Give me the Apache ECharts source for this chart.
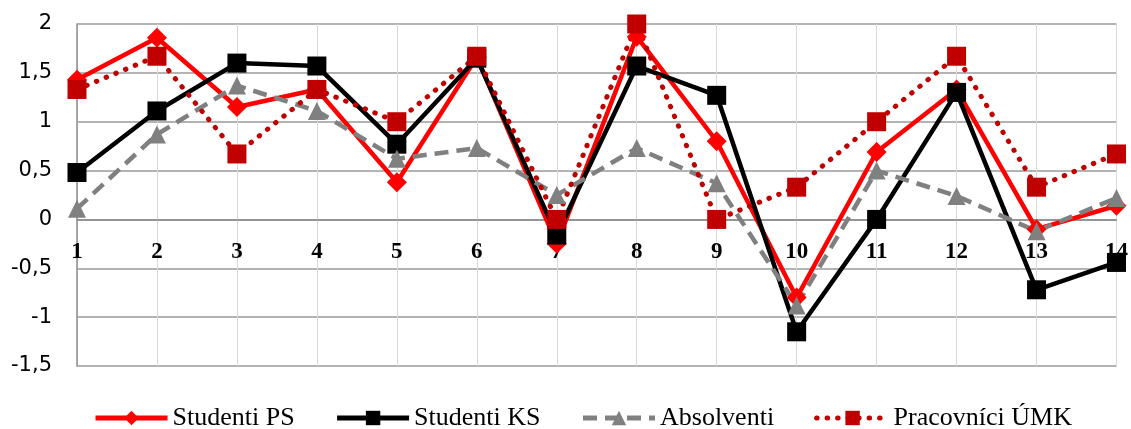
<!DOCTYPE html>
<html>
<head>
<meta charset="utf-8">
<script src="https://cdn.jsdelivr.net/npm/echarts@6/dist/echarts.min.js"></script>
<style>
  html, body { margin: 0; padding: 0; background: #ffffff; }
  #chart { width: 1131px; height: 429px; }
</style>
</head>
<body>
<div id="chart"></div>
<script>
// Item numbers along the horizontal axis
var categories = ['1', '2', '3', '4', '5', '6', '7', '8', '9', '10', '11', '12', '13', '14'];

// Mean scores per group
var studentiPS = [1.43, 1.86, 1.15, 1.33, 0.38, 1.66, -0.25, 1.87, 0.80, -0.80, 0.69, 1.33, -0.10, 0.14];
var studentiKS = [0.48, 1.11, 1.60, 1.57, 0.77, 1.65, -0.16, 1.57, 1.27, -1.15, 0.00, 1.30, -0.72, -0.44];
var absolventi = [0.11, 0.87, 1.37, 1.11, 0.62, 0.73, 0.25, 0.73, 0.37, -0.88, 0.50, 0.24, -0.12, 0.22];
var pracovnici = [1.33, 1.67, 0.67, 1.33, 1.00, 1.67, 0.00, 2.00, 0.00, 0.33, 1.00, 1.67, 0.33, 0.67];

// Value axis range
var yMin = -1.5, yMax = 2, yStep = 0.5;

// Plot area
var gridTop = 24, gridBottom = 63, chartHeight = 429;
var plotHeight = chartHeight - gridTop - gridBottom;
// Shift the category axis up from the bottom edge to the zero line
var zeroOffset = -plotHeight * (0 - yMin) / (yMax - yMin);

var chart = echarts.init(document.getElementById('chart'), null, { renderer: 'canvas' });

function lineSeries(name, data, color, lineType, symbol, size, extra) {
  var s = {
    name: name,
    type: 'line',
    data: data,
    symbol: symbol,
    symbolSize: size,
    showAllSymbol: true,
    lineStyle: { color: color, width: 4.5, type: lineType },
    itemStyle: { color: color },
    emphasis: { disabled: true },
    animation: false
  };
  if (extra) { for (var k in extra) s[k] = extra[k]; }
  return s;
}

var option = {
  backgroundColor: '#ffffff',
  animation: false,
  grid: { left: 77, right: 9, top: gridTop, bottom: gridBottom, containLabel: false },
  legend: {
    left: 88,
    top: 400,
    itemWidth: 72,
    itemHeight: 18,
    itemGap: 40,
    lineStyle: { width: 5 },
    textStyle: { fontFamily: 'Liberation Serif', fontSize: 26, color: '#000000' },
    data: ['Studenti PS', 'Studenti KS', 'Absolventi', 'Pracovníci ÚMK']
  },
  xAxis: {
    type: 'category',
    data: categories,
    boundaryGap: false,
    offset: zeroOffset,
    axisLine: { show: true, onZero: false, lineStyle: { color: '#8c8c8c', width: 1.5 } },
    axisTick: { show: false },
    axisLabel: {
      interval: 0,
      margin: 21,
      fontFamily: 'Liberation Serif',
      fontWeight: 'bold',
      fontSize: 23,
      color: '#000000'
    },
    splitLine: { show: true, interval: 0, lineStyle: { color: '#d9d9d9', width: 1 } }
  },
  yAxis: {
    type: 'value',
    min: yMin,
    max: yMax,
    interval: yStep,
    axisLine: { show: true, onZero: false, lineStyle: { color: '#8c8c8c', width: 1.5 } },
    axisTick: { show: false },
    axisLabel: {
      margin: 25,
      fontFamily: 'DejaVu Sans',
      fontSize: 21,
      color: '#000000',
      formatter: function (v) { return String(v).replace('.', ','); }
    },
    splitLine: { show: true, lineStyle: { color: '#9a9a9a', width: 1.5 } }
  },
  series: [
    lineSeries('Studenti PS', studentiPS, '#ff0000', 'solid', 'diamond', 20),
    lineSeries('Studenti KS', studentiKS, '#000000', 'solid', 'rect', 19),
    lineSeries('Absolventi', absolventi, '#808080', [14, 8], 'triangle', 18),
    lineSeries('Pracovníci ÚMK', pracovnici, '#c00000', [0.5, 10], 'rect', 19, {
      lineStyle: { color: '#c00000', width: 5, type: [0.5, 10], cap: 'round' }
    })
  ]
};

chart.setOption(option);
</script>
</body>
</html>
